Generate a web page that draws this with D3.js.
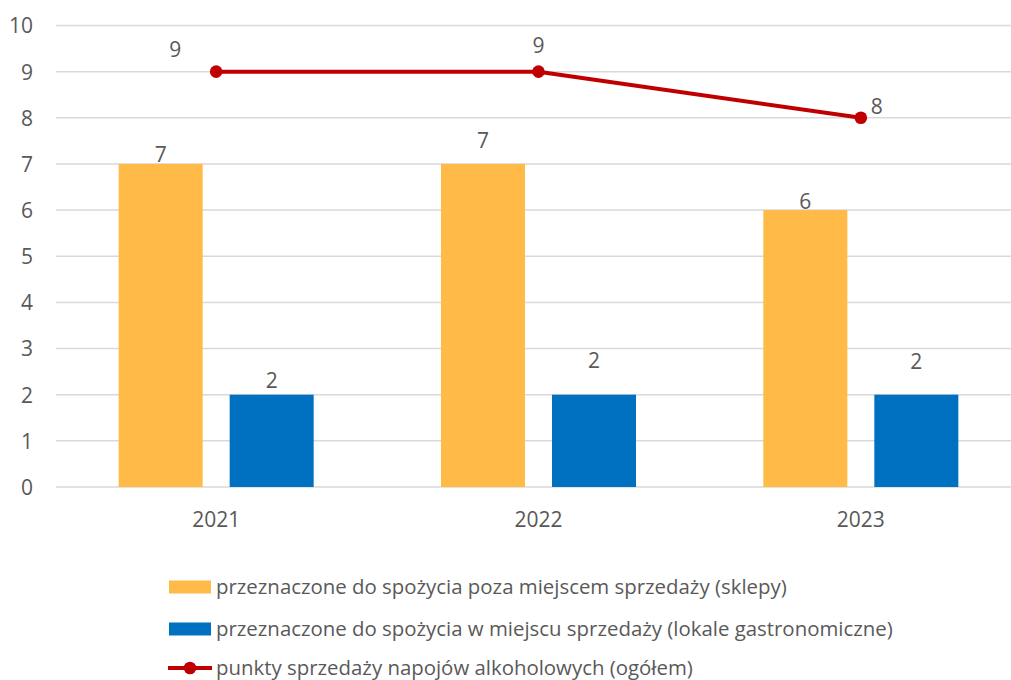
<!DOCTYPE html>
<html><head><meta charset="utf-8">
<script src="https://cdn.jsdelivr.net/npm/d3@7"></script>
<style>body{margin:0;background:#fff}svg{display:block}text{font-family:"Open Sans","Noto Sans",sans-serif;fill:#595959}</style>
</head><body>
<svg id="c" width="1011" height="680"></svg>
<script>
const categories = ["2021","2022","2023"];
const shops = [7,7,6];
const gastro = [2,2,2];
const total = [9,9,8];
const yTicks = [0,1,2,3,4,5,6,7,8,9,10];
const seriesNames = [
  "przeznaczone do spożycia poza miejscem sprzedaży (sklepy)",
  "przeznaczone do spożycia w miejscu sprzedaży (lokale gastronomiczne)",
  "punkty sprzedaży napojów alkoholowych (ogółem)"
];
// label offsets (style, not data)
const shopLabelDy = [-9,-23,-8];
const gastroLabelDy = [-14,-34,-33];
const totalLabelOff = [[-41,-22],[0,-26],[16,-11]];

const FS = 21;
const svg = d3.select("#c");
const colors = {shop:"#FFBA47", gastro:"#0070C0", total:"#C00000", grid:"#D9D9D9"};
const x = d3.scaleBand().domain(categories).range([55,1022]);
const y = d3.scaleLinear().domain([0,10]).range([487,25.5]);
const barW = 84, gap = 27;

// gridlines
svg.append("g").selectAll("line").data(yTicks).join("line")
  .attr("x1",56).attr("x2",1020).attr("y1",d=>y(d)).attr("y2",d=>y(d))
  .attr("stroke",colors.grid).attr("stroke-width",1.5);

// y labels
const yAxis = d3.axisLeft(y).tickValues(yTicks).tickSize(0).tickPadding(0);
const ya = svg.append("g").attr("transform","translate(33,0)").call(yAxis);
ya.select(".domain").remove();
ya.selectAll("text").attr("font-size",FS).style("font-family",'"Open Sans","Noto Sans",sans-serif').attr("fill","#595959").attr("dy","0.35em");

// x labels
const xAxis = d3.axisBottom(x).tickSize(0).tickPadding(0);
const xa = svg.append("g").attr("transform","translate(0,512)").call(xAxis);
xa.select(".domain").remove();
xa.selectAll("text").attr("font-size",FS).style("font-family",'"Open Sans","Noto Sans",sans-serif').attr("fill","#595959").attr("dy","0.35em").attr("y",8);

const cx = c => x(c) + x.bandwidth()/2;

// bars
svg.append("g").selectAll("rect").data(categories).join("rect")
  .attr("x",(c)=>cx(c)-gap/2-barW).attr("width",barW)
  .attr("y",(c,i)=>y(shops[i])).attr("height",(c,i)=>y(0)-y(shops[i]))
  .attr("fill",colors.shop);
svg.append("g").selectAll("rect").data(categories).join("rect")
  .attr("x",(c)=>cx(c)+gap/2).attr("width",barW)
  .attr("y",(c,i)=>y(gastro[i])).attr("height",(c,i)=>y(0)-y(gastro[i]))
  .attr("fill",colors.gastro);

// bar labels
svg.append("g").selectAll("text").data(categories).join("text")
  .attr("x",c=>cx(c)-gap/2-barW/2).attr("y",(c,i)=>y(shops[i])+shopLabelDy[i])
  .attr("text-anchor","middle").attr("dy","0.35em").attr("font-size",FS).text((c,i)=>shops[i]);
svg.append("g").selectAll("text").data(categories).join("text")
  .attr("x",c=>cx(c)+gap/2+barW/2).attr("y",(c,i)=>y(gastro[i])+gastroLabelDy[i])
  .attr("text-anchor","middle").attr("dy","0.35em").attr("font-size",FS).text((c,i)=>gastro[i]);

// line
const line = d3.line().x((d,i)=>cx(categories[i])).y(d=>y(d));
svg.append("path").datum(total).attr("d",line).attr("fill","none")
  .attr("stroke",colors.total).attr("stroke-width",4).attr("stroke-linejoin","round");
svg.append("g").selectAll("circle").data(total).join("circle")
  .attr("cx",(d,i)=>cx(categories[i])).attr("cy",d=>y(d)).attr("r",6.3).attr("fill",colors.total);
svg.append("g").selectAll("text").data(total).join("text")
  .attr("x",(d,i)=>cx(categories[i])+totalLabelOff[i][0]).attr("y",(d,i)=>y(d)+totalLabelOff[i][1])
  .attr("text-anchor","middle").attr("dy","0.35em").attr("font-size",FS).text(d=>d);

// legend
const lg = svg.append("g");
const ly = [587, 629, 668];
lg.append("rect").attr("x",169).attr("y",ly[0]-6.5).attr("width",42).attr("height",13).attr("fill",colors.shop);
lg.append("rect").attr("x",169).attr("y",ly[1]-6.5).attr("width",42).attr("height",13).attr("fill",colors.gastro);
lg.append("line").attr("x1",168).attr("x2",212).attr("y1",ly[2]).attr("y2",ly[2]).attr("stroke",colors.total).attr("stroke-width",4);
lg.append("circle").attr("cx",190).attr("cy",ly[2]).attr("r",6.3).attr("fill",colors.total);
lg.selectAll("text").data(seriesNames).join("text")
  .attr("x",216).attr("y",(d,i)=>ly[i]).attr("dy","0.35em").attr("font-size",20.4).text(d=>d);
</script>
</body></html>
